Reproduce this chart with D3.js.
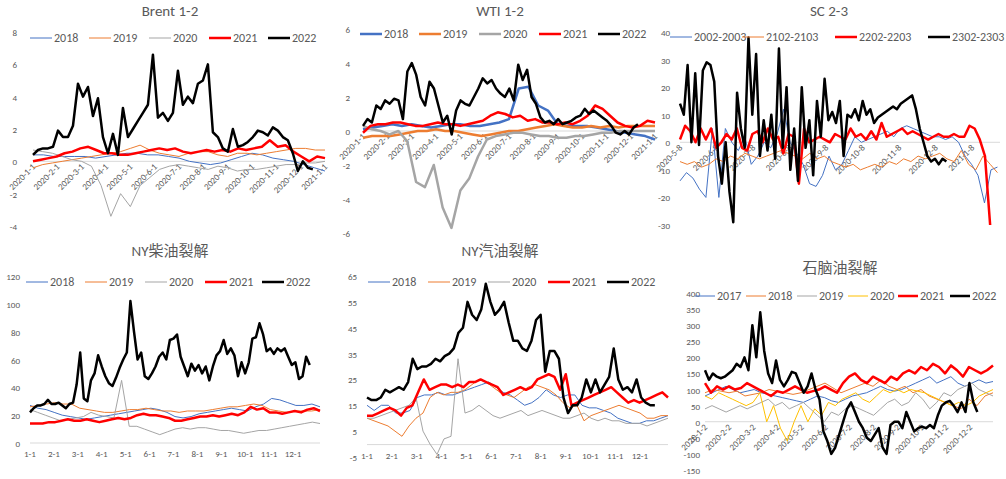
<!DOCTYPE html>
<html><head><meta charset="utf-8">
<script src="https://cdn.jsdelivr.net/npm/d3@7/dist/d3.min.js"></script>
<style>body{margin:0;background:#fff}svg{font-family:Calibri,Carlito,"Liberation Sans","Noto Sans CJK SC",sans-serif}</style>
</head><body><svg id="c" width="1006" height="479"></svg>
<script>
// ---------- DATA ----------
const monthTicks2020 = ["2020-1-1","2020-2-1","2020-3-1","2020-4-1","2020-5-1","2020-6-1","2020-7-1","2020-8-1","2020-9-1","2020-10-1","2020-11-1","2020-12-1","2021-1-1"];
const monthTicksShort = ["1-1","2-1","3-1","4-1","5-1","6-1","7-1","8-1","9-1","10-1","11-1","12-1"];
const scTicks = ["2020-5-8","2020-6-8","2020-7-8","2020-8-8","2020-9-8","2020-10-8","2020-11-8","2020-12-8","2021-1-8"];
const naphthaTicks = ["2020-1-2","2020-2-2","2020-3-2","2020-4-2","2020-5-2","2020-6-2","2020-7-2","2020-8-2","2020-9-2","2020-10-2","2020-11-2","2020-12-2"];

const yearNames5 = ["2018","2019","2020","2021","2022"];
const scNames = ["2002-2003","2102-2103","2202-2203","2302-2303"];
const naphthaNames = ["2017","2018","2019","2020","2021","2022"];

// Brent 1-2
const brent2018 = [0.4,0.4,0.3,0.3,0.3,0.3,0.2,0.3,0.4,0.5,0.5,0.4,0.4,0.3,0.2,0.0,-0.1,-0.2,-0.1,0.1,0.3,0.5,0.4,0.2,0.1,0.0,-0.2,-0.4,-0.6];
const brent2019 = [-0.4,-0.2,-0.1,0.0,0.1,0.2,0.3,0.4,0.5,0.6,0.8,1.0,0.7,0.5,0.4,0.3,0.5,0.6,0.6,0.4,0.3,0.5,0.5,0.4,0.5,0.6,0.7,0.8,0.8,0.7,0.7];
const brent2020 = [0.7,0.6,0.5,0.3,0.1,0.0,-0.3,-1.5,-3.4,-2.0,-2.8,-1.5,-1.0,-0.5,-0.3,-0.2,-0.3,-0.4,-0.5,-0.3,-0.4,-0.6,-0.5,-0.5,-0.4,-0.3,-0.2,-0.2,-0.1,-0.1,0.0];
const brent2021 = [0.0,0.1,0.2,0.3,0.5,0.6,0.8,0.9,0.7,0.5,0.5,0.4,0.4,0.5,0.6,0.7,0.8,0.7,0.8,0.6,0.5,0.6,0.7,0.6,0.7,0.6,0.8,0.7,0.8,0.9,1.3,0.9,1.0,0.6,0.3,0.0,0.3,0.2];
const brent2022 = [0.4,0.7,0.8,0.8,0.9,1.9,1.5,1.5,2.2,4.8,4.0,4.6,2.8,3.9,1.5,0.5,1.7,0.4,3.3,1.5,2.0,2.5,3.0,3.5,6.6,2.7,3.0,2.5,3.0,5.6,3.5,4.0,3.6,4.8,5.0,6.0,1.8,1.5,0.8,0.6,2.0,0.9,1.0,1.2,1.5,1.9,1.8,1.6,2.1,1.9,1.5,1.3,0.5,-0.6,0.0,-0.4,-0.5];

// WTI 1-2
const wti2018 = [0.1,0.2,0.3,0.4,0.3,0.4,0.3,0.2,0.3,0.4,0.4,0.3,0.3,0.4,0.5,0.7,2.5,2.6,1.5,1.2,0.4,0.3,0.3,0.3,0.2,0.1,0.0,-0.1,-0.2,-0.3,-0.5];
const wti2019 = [-0.4,-0.3,-0.3,-0.3,-0.2,-0.1,0.0,0.0,0.1,0.0,0.0,-0.1,-0.2,-0.3,-0.2,-0.1,0.0,0.0,0.1,0.2,0.3,0.4,0.3,0.2,0.2,0.3,0.2,0.3,0.2,0.3,0.3,0.3,0.3];
const wti2020 = [0.3,0.1,0.0,-0.2,0.0,-0.6,-3.0,-3.3,-2.0,-4.5,-5.7,-3.5,-2.8,-1.5,-0.5,-0.3,-0.2,-0.1,-0.1,-0.2,-0.3,-0.3,-0.4,-0.4,-0.3,-0.3,-0.2,-0.1,-0.1,0.0,0.0,0.0,0.0,0.0];
const wti2021 = [-0.1,0.3,0.4,0.4,0.5,0.5,0.4,0.3,0.3,0.4,0.5,0.4,0.4,0.3,0.4,0.5,0.6,0.9,1.1,1.0,0.8,0.9,0.6,0.7,0.5,0.5,0.4,0.5,0.4,0.6,0.9,1.5,1.3,0.9,0.5,0.3,0.2,0.3,0.6,0.5];
const wti2022 = [0.3,0.7,0.5,1.5,1.3,1.8,1.6,1.9,1.8,0.7,3.5,4.0,3.3,2.0,1.5,2.9,2.5,1.5,0.5,0.9,-0.2,1.2,1.8,1.6,1.5,2.0,2.5,3.1,2.8,3.0,2.5,2.2,2.0,2.5,1.8,3.9,3.0,3.6,2.0,1.6,0.8,0.5,0.6,0.4,0.7,0.4,0.5,0.6,0.8,0.9,1.3,1.0,1.2,1.0,0.8,0.6,0.3,-0.1,-0.2,0.0,-0.2,0.2,0.4];

// SC 2-3
const sc2002 = [-14,-11,-13,-17,-20,5,-20,5,0,-3,2,-8,-5,0,-2,3,12,0,-4,-8,-15,-16,-12,-5,-10,-8,-3,2,0,1,2,3,4,2,5,6,5,4,3,2,2,1,2,0,-5,-8,-12,-22,-10,-9];
const sc2102 = [-7,-8,-7,-9,-8,-6,-7,-5,-6,-4,-5,-6,-5,-4,-3,-4,-5,-6,-4,-6,-5,-7,-8,-9,-8,-10,-9,-8,-9,-7,-8,-6,-7,-5,-6,-5,-4,-6,-7,-3,-8,-10,-5,-8,-11];
const sc2202 = [1,6,4,0,5,1,5,-2,0,3,1,5,-2,-3,3,4,0,5,1,2,-4,3,2,-15,5,0,1,2,1,0,3,2,1,5,2,3,1,4,1,7,2,3,4,5,3,4,3,2,1,2,3,2,2,3,2,2,6,5,1,-5,-30];
const sc2302 = [14,10,28,0,25,-1,26,29,28,22,-5,-15,0,-18,-29,18,5,-2,38,10,32,-5,8,-3,10,-6,34,-2,20,-10,5,-14,20,-2,8,-12,15,2,23,8,11,7,15,-5,10,9,12,8,15,10,12,7,9,10,11,12,13,12,14,15,16,17,12,5,0,-5,-7,-6,-8,-6,-7];

// NY diesel crack
const ho2018 = [27,25,24,22,20,19,18,17,18,19,20,21,22,23,24,25,24,22,19,18,19,21,22,23,24,25,24,23,26,28,32,31,29,27,27,28,26];
const ho2019 = [26,27,28,29,28,28,25,24,23,22,22,23,24,24,25,24,23,23,22,23,23,23,24,25,26,26,27,28,27,24,23,22,23,23,23,24];
const ho2020 = [24,22,20,18,16,17,18,19,22,20,19,18,45,12,12,10,8,6,8,10,11,10,11,11,10,9,9,8,7,8,9,9,10,11,12,13,14,15,14];
const ho2021 = [14,14,14,15,15,16,17,16,16,17,16,15,16,17,18,17,18,20,21,20,20,19,18,16,16,17,18,19,19,20,19,20,21,20,22,26,24,25,22,22,21,22,23,22,24,25,23];
const ho2022 = [22,25,27,27,28,31,28,28,29,27,25,28,29,42,65,32,30,45,50,63,55,48,43,41,47,54,60,65,102,80,60,65,48,46,50,55,62,65,60,74,75,78,62,55,48,57,52,56,50,55,45,55,63,66,74,64,68,63,48,58,50,58,75,76,86,78,66,68,64,68,66,68,62,56,58,46,48,62,56];

// NY gasoline crack
const rb2018 = [15,13,15,15,12,12,13,18,19,19,20,19,19,20,21,22,23,24,22,20,19,17,15,16,18,21,19,18,19,19,15,14,14,13,12,10,9,8,8,9,9,10,11];
const rb2019 = [10,9,8,7,5,3,7,10,12,18,20,19,20,20,21,23,25,24,22,20,19,18,20,22,23,22,21,19,16,14,15,9,11,12,13,14,15,14,13,12,10,10,11,11];
const rb2020 = [10,10,11,12,13,14,15,18,5,0,-4,2,3,33,12,13,15,13,11,10,11,12,13,11,12,13,12,11,10,10,11,12,10,9,10,9,9,8,8,8,7,8,9,10];
const rb2021 = [11,11,12,13,14,13,11,14,15,20,25,21,22,23,23,22,23,22,24,24,25,24,23,22,19,20,21,22,21,22,25,26,27,26,21,27,15,16,17,18,19,20,21,22,20,18,16,17,16,17,18,19,20,18];
const rb2022 = [18,17,17,18,21,20,21,22,21,24,33,29,30,30,31,33,32,34,35,37,43,45,55,50,48,52,62,55,50,52,55,47,40,40,37,36,40,48,50,28,36,36,33,18,12,15,15,18,25,20,25,20,23,26,37,25,21,22,20,25,18,16,15,15];

// Naphtha crack
const nap2017 = [80,90,100,110,100,90,95,100,90,85,80,75,70,65,60,70,80,75,65,60,70,80,85,90,100,110,100,95,100,110,120,130,140,120,130,140,120,110,120,130,120,125];
const nap2018 = [90,100,95,90,95,80,85,90,100,95,90,85,90,100,110,120,105,90,100,110,120,110,130,110,100,110,90,100,80,70,60,50,40,70,50,80,90];
const nap2019 = [40,50,40,30,40,50,40,50,60,70,50,60,40,50,60,40,20,0,30,20,40,50,40,30,20,40,60,70,50,60,90,70,40,60,90,80,100,110,120,100,90,80];
const nap2020 = [80,70,90,80,70,60,50,60,90,0,50,-20,-60,0,50,0,40,20,60,50,70,80,90,70,60,80,100,90,100,90,100,95,90,80,70,60,50,60,50,60,80,90,100];
const nap2021 = [120,90,110,100,110,100,105,120,110,100,90,80,95,90,100,110,100,90,95,100,110,100,90,120,140,150,130,120,140,130,120,140,130,150,160,150,170,160,180,170,150,175,160,140,170,160,150,160,175];
const nap2022 = [160,130,150,140,135,140,150,160,180,170,200,160,300,200,340,220,150,120,190,130,110,130,155,150,120,90,110,150,100,70,-30,-60,-100,-80,-40,0,40,60,30,0,-20,-50,-60,-40,-20,-80,-100,-10,0,0,-20,30,0,-30,-20,-15,-20,-10,-20,20,50,60,65,50,30,60,30,120,60,30];

// ---------- DRAW ----------
const C = {blue:"#4472C4",orange:"#ED7D31",gray:"#A5A5A5",red:"#FF0000",black:"#000000",yellow:"#FFC000"};
const svg = d3.select("#c");
const txt = "#595959";

function panel(o){
  const g = svg.append("g");
  const x = d3.scaleLinear().domain([0,o.xMax]).range([o.x0,o.x1]);
  const y = d3.scaleLinear().domain(o.yDom).range([o.yb,o.yt]);
  g.append("text").attr("x",o.tx).attr("y",o.ty).attr("text-anchor","middle")
   .attr("font-size",15).attr("fill",txt).text(o.title);
  o.yTicks.forEach(v=>g.append("text").attr("x",o.ylx).attr("y",y(v)+4).attr("text-anchor","end")
    .attr("font-size",9).attr("fill",txt).text(v));
  const by = y(o.baseVal);
  g.append("line").attr("x1",o.x0).attr("x2",o.x1).attr("y1",by).attr("y2",by).attr("stroke","#D9D9D9");
  o.xTicks.forEach((t,i)=>{
    const px = x(i*o.xStep);
    if(o.rot){
      g.append("text").attr("transform",`translate(${px+3},${by+6}) rotate(-45)`).attr("text-anchor","end")
       .attr("font-size",9).attr("fill",txt).text(t);
    } else {
      g.append("text").attr("x",px).attr("y",by+14).attr("text-anchor","middle").attr("font-size",9).attr("fill",txt).text(t);
    }
  });
  o.series.forEach(s=>{
    const n = s.data.length, end = s.end==null?o.xMax:s.end;
    const line = d3.line().x((d,i)=>x(i*end/(n-1))).y(d=>y(d));
    g.append("path").attr("d",line(s.data)).attr("fill","none").attr("stroke",s.color)
     .attr("stroke-width",s.w).attr("stroke-linejoin","round");
  });
  o.series.forEach((s,i)=>{
    const lx = o.lx[i];
    g.append("line").attr("x1",lx).attr("x2",lx+o.ll).attr("y1",o.ly).attr("y2",o.ly).attr("stroke",s.color).attr("stroke-width",s.w);
    g.append("text").attr("x",lx+o.ll+2).attr("y",o.ly+4).attr("font-size",12).attr("fill",txt).text(s.name);
  });
}

const thin=1, thick=2.5;
panel({title:"Brent 1-2",tx:170,ty:16,x0:33,x1:325,xMax:12,xStep:1,xTicks:monthTicks2020,rot:true,
  yDom:[-4,8],yb:226,yt:32,ylx:17,yTicks:[-4,-2,0,2,4,6,8],baseVal:0,
  ly:38,ll:22,lx:[30,89,149,209,268],
  series:[{name:yearNames5[0],data:brent2018,color:C.blue,w:thin},
          {name:yearNames5[1],data:brent2019,color:C.orange,w:thin},
          {name:yearNames5[2],data:brent2020,color:C.gray,w:thin},
          {name:yearNames5[3],data:brent2021,color:C.red,w:thick},
          {name:yearNames5[4],data:brent2022,color:C.black,w:thick,end:11.5}]});

panel({title:"WTI 1-2",tx:500,ty:16,x0:363,x1:655,xMax:12,xStep:1,xTicks:monthTicks2020,rot:true,
  yDom:[-6,6],yb:233,yt:29,ylx:350,yTicks:[-6,-4,-2,0,2,4,6],baseVal:0,
  ly:34,ll:22,lx:[360,419,479,539,598],
  series:[{name:yearNames5[0],data:wti2018,color:C.blue,w:thick},
          {name:yearNames5[1],data:wti2019,color:C.orange,w:thick},
          {name:yearNames5[2],data:wti2020,color:C.gray,w:thick},
          {name:yearNames5[3],data:wti2021,color:C.red,w:thick},
          {name:yearNames5[4],data:wti2022,color:C.black,w:thick,end:11.3}]});

panel({title:"SC 2-3",tx:829,ty:16,x0:680,x1:1000,xMax:8.77,xStep:1,xTicks:scTicks,rot:true,
  yDom:[-30,40],yb:225,yt:32,ylx:670,yTicks:[-30,-20,-10,0,10,20,30,40],baseVal:0,
  ly:37,ll:22,lx:[670,742,835,928],
  series:[{name:scNames[0],data:sc2002,color:C.blue,w:thin,end:8.7},
          {name:scNames[1],data:sc2102,color:C.orange,w:thin,end:8.7},
          {name:scNames[2],data:sc2202,color:C.red,w:thick,end:8.5},
          {name:scNames[3],data:sc2302,color:C.black,w:thick,end:7.3}]});

panel({title:"NY柴油裂解",tx:170,ty:256,x0:30,x1:320,xMax:12.13,xStep:1,xTicks:monthTicksShort,rot:false,
  yDom:[0,120],yb:443,yt:276,ylx:20,yTicks:[0,20,40,60,80,100,120],baseVal:0,
  ly:282,ll:22,lx:[26,85,145,205,262],
  series:[{name:yearNames5[0],data:ho2018,color:C.blue,w:thin},
          {name:yearNames5[1],data:ho2019,color:C.orange,w:thin},
          {name:yearNames5[2],data:ho2020,color:C.gray,w:thin},
          {name:yearNames5[3],data:ho2021,color:C.red,w:thick},
          {name:yearNames5[4],data:ho2022,color:C.black,w:thick,end:11.7}]});

panel({title:"NY汽油裂解",tx:500,ty:256,x0:367,x1:668,xMax:12.13,xStep:1,xTicks:monthTicksShort,rot:false,
  yDom:[-5,65],yb:457,yt:276,ylx:357,yTicks:[-5,5,15,25,35,45,55,65],baseVal:-0.2,
  ly:282,ll:22,lx:[368,428,488,548,607],
  series:[{name:yearNames5[0],data:rb2018,color:C.blue,w:thin},
          {name:yearNames5[1],data:rb2019,color:C.orange,w:thin},
          {name:yearNames5[2],data:rb2020,color:C.gray,w:thin},
          {name:yearNames5[3],data:rb2021,color:C.red,w:thick},
          {name:yearNames5[4],data:rb2022,color:C.black,w:thick,end:11.6}]});

panel({title:"石脑油裂解",tx:840,ty:273,x0:705,x1:993,xMax:11.95,xStep:1,xTicks:naphthaTicks,rot:true,
  yDom:[-150,400],yb:470,yt:293,ylx:700,yTicks:[-150,-100,-50,0,50,100,150,200,250,300,350,400],baseVal:0,
  ly:296,ll:20,lx:[695,746,797,848,898,950],
  series:[{name:naphthaNames[0],data:nap2017,color:C.blue,w:thin},
          {name:naphthaNames[1],data:nap2018,color:C.orange,w:thin},
          {name:naphthaNames[2],data:nap2019,color:C.gray,w:thin},
          {name:naphthaNames[3],data:nap2020,color:C.yellow,w:thin},
          {name:naphthaNames[4],data:nap2021,color:C.red,w:thick},
          {name:naphthaNames[5],data:nap2022,color:C.black,w:thick,end:11.3}]});
</script></body></html>
